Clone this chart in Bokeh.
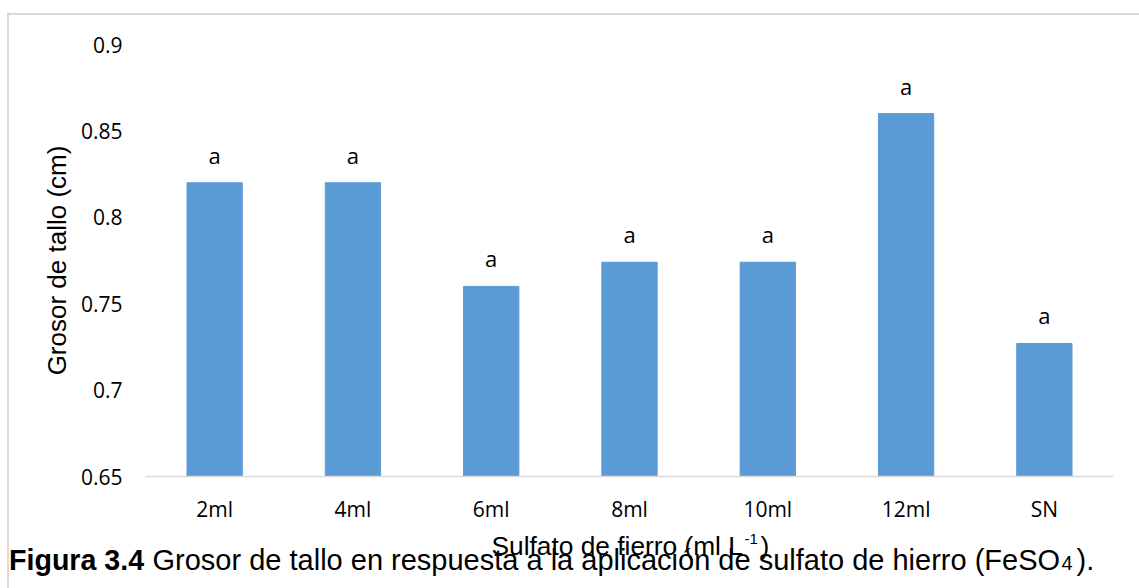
from bokeh.plotting import figure
from bokeh.models import FactorRange, Range1d, FixedTicker, InlineStyleSheet
from bokeh.core.properties import value
from bokeh.embed import file_html
from bokeh.resources import INLINE

# Stem thickness by iron sulfate dose
categories = ["2ml", "4ml", "6ml", "8ml", "10ml", "12ml", "SN"]
grosor = [0.82, 0.82, 0.76, 0.774, 0.774, 0.86, 0.727]
letras = ["a", "a", "a", "a", "a", "a", "a"]

y_ticks = [0.65, 0.7, 0.75, 0.8, 0.85, 0.9]
y_tick_labels = ["0.65", "0.7", "0.75", "0.8", "0.85", "0.9"]

BAR_COLOR = "#5b9bd5"
TICK_FONT = "Open Sans"
TEXT_FONT = "Liberation Sans"
W = 1139
TOP_H = 528
BOTTOM_H = 588 - TOP_H
STRIP_SHIFT = 7  # the second root sits a few pixels lower on the page

# light gray frame drawn around the whole chart
chart_border = InlineStyleSheet(css="""
:host { position: relative; }
:host::after {
  content: ""; position: absolute; left: 7px; top: 13px;
  width: 1200px; height: 700px; border: 2px solid #d9d9d9;
  pointer-events: none; z-index: 10;
}
""")
caption_border = InlineStyleSheet(css="""
:host { position: relative; }
:host::after {
  content: ""; position: absolute; left: 7px; top: -10px;
  width: 0px; height: 200px; border-left: 2px solid #d9d9d9;
  pointer-events: none; z-index: 10;
}
""")

# ---- chart -------------------------------------------------------------
p = figure(
    width=W, height=TOP_H,
    x_range=FactorRange(*categories, range_padding=0),
    y_range=Range1d(0.65, 0.9),
    output_backend="svg", toolbar_location=None,
    min_border_left=145, min_border_right=26,
    min_border_top=44, min_border_bottom=52,
    stylesheets=[chart_border],
)
p.outline_line_color = None
p.background_fill_color = "white"
p.border_fill_color = "white"
p.xgrid.grid_line_color = None
p.ygrid.grid_line_color = None

p.vbar(x=categories, top=grosor, bottom=0.65, width=0.4,
       fill_color=BAR_COLOR, line_color=BAR_COLOR)

p.text(x=categories, y=grosor, text=letras, y_offset=-28,
       text_align="center", text_baseline="alphabetic",
       text_font=value(TICK_FONT), text_font_size="22px", text_color="black")

ya = p.yaxis[0]
ya.ticker = FixedTicker(ticks=y_ticks)
ya.major_label_overrides = dict(zip(y_ticks, y_tick_labels))
ya.axis_line_color = None
ya.major_tick_line_color = None
ya.minor_tick_line_color = None
ya.major_tick_out = 0
ya.major_tick_in = 0
ya.major_label_standoff = 23
ya.major_label_text_font = TICK_FONT
ya.major_label_text_font_size = "21px"
ya.major_label_text_color = "black"
ya.axis_label = "Grosor de tallo (cm)"
ya.axis_label_text_font = TEXT_FONT
ya.axis_label_text_font_size = "26px"
ya.axis_label_text_font_style = "normal"
ya.axis_label_text_color = "black"
ya.axis_label_standoff = 6

xa = p.xaxis[0]
xa.axis_line_color = "#d9d9d9"
xa.axis_line_width = 1.5
xa.major_tick_line_color = None
xa.minor_tick_line_color = None
xa.major_tick_out = 0
xa.major_tick_in = 0
xa.major_label_standoff = 18
xa.major_label_text_font = TICK_FONT
xa.major_label_text_font_size = "21px"
xa.major_label_text_color = "black"

# ---- axis title and caption strip (page pixel coordinates) --------------
c = figure(
    width=W, height=BOTTOM_H, x_range=Range1d(0, W),
    y_range=Range1d(588 + STRIP_SHIFT, TOP_H + STRIP_SHIFT),
    output_backend="svg", toolbar_location=None,
    x_axis_type=None, y_axis_type=None, min_border=0,
    stylesheets=[caption_border],
)
c.outline_line_color = None
c.xgrid.grid_line_color = None
c.ygrid.grid_line_color = None
c.background_fill_color = "white"
c.border_fill_color = "white"


def put(txt, x, y, size, style="normal"):
    c.text(x=[x], y=[y], text=[txt], text_font=value(TEXT_FONT),
           text_font_size=size, text_font_style=style, text_color="black",
           text_align="left", text_baseline="alphabetic")


put("Sulfato de fierro (ml L", 491, 552, "26.3px")
put("-1", 744, 545, "15px")
put(")", 760, 552, "26.3px")

put("Figura 3.4", 8.5, 566, "28.6px", "bold")
put("Grosor de tallo en respuesta a la aplicación de sulfato de hierro (FeSO",
    152, 566, "29px")
put("4", 1061, 569, "20px")
put(").", 1076, 566, "29px")

open("out.html", "w").write(file_html([p, c], INLINE))
